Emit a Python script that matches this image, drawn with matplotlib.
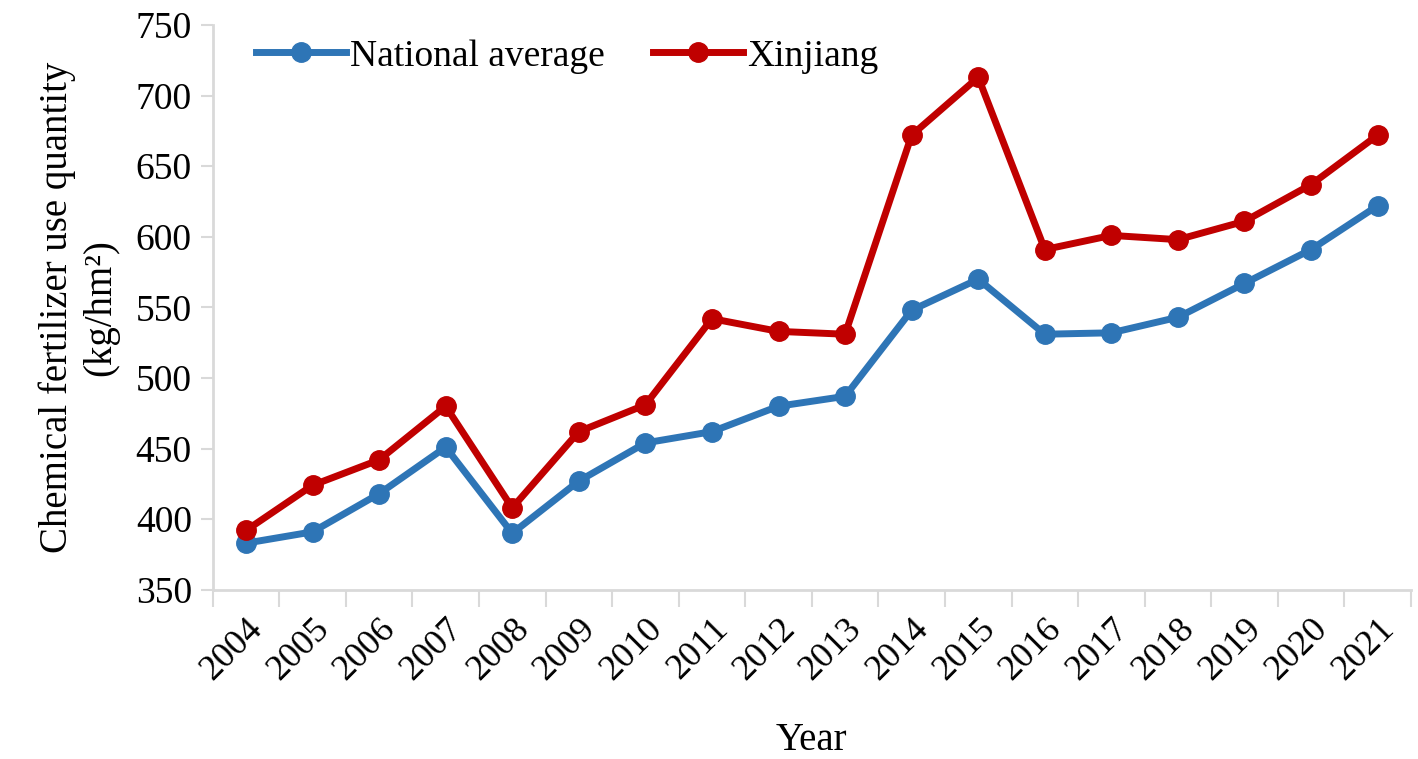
import matplotlib
matplotlib.use("Agg")
import matplotlib.pyplot as plt
import numpy as np

years = ["2004", "2005", "2006", "2007", "2008", "2009", "2010", "2011", "2012",
         "2013", "2014", "2015", "2016", "2017", "2018", "2019", "2020", "2021"]
national = [383, 391, 418, 451, 390, 427, 454, 462, 480,
            487, 548, 570, 531, 532, 543, 567, 591, 622]
xinjiang = [392, 424, 442, 480, 408, 462, 481, 542, 533,
            531, 672, 713, 591, 601, 598, 611, 637, 672]

plt.rcParams["font.family"] = ["Liberation Serif", "DejaVu Serif"]

fig = plt.figure(figsize=(14.18, 7.59), dpi=100)
ax = fig.add_axes([0.150, 0.223, 0.845, 0.744])

x = np.arange(len(years))
ax.plot(x, national, "-o", color="#2E75B6", lw=5, ms=14, label="National average")
ax.plot(x, xinjiang, "-o", color="#C00000", lw=5, ms=14, label="Xinjiang")

ax.set_xlim(-0.5, len(years) - 0.5)
ax.set_ylim(350, 750)
ax.set_yticks(range(350, 751, 50))
ax.tick_params(axis="y", labelsize=27, length=9, width=1.5, color="#D9D9D9", pad=6)

# category labels in the middle, tick marks between categories
ax.set_xticks(x)
ax.set_xticklabels(years, rotation=45, ha="right", va="top", rotation_mode="anchor", fontsize=26)
ax.tick_params(axis="x", which="major", length=0, pad=16)
ax.set_xticks(np.arange(-0.5, len(years), 1), minor=True)
ax.tick_params(axis="x", which="minor", length=12, width=1.5, color="#D9D9D9")

for s in ["top", "right"]:
    ax.spines[s].set_visible(False)
for s in ["left", "bottom"]:
    ax.spines[s].set_color("#D9D9D9")
    ax.spines[s].set_linewidth(2)

ax.set_xlabel("Year", fontsize=28, labelpad=26)
ax.set_ylabel("Chemical fertilizer use quantity\n(kg/hm²)", fontsize=28, labelpad=12)

ax.legend(loc="upper left", bbox_to_anchor=(0.008, 1.035), ncol=2, frameon=False,
          fontsize=27, handlelength=2.4, handletextpad=0.1, columnspacing=1.3)

fig.savefig("out.png", dpi=100)
